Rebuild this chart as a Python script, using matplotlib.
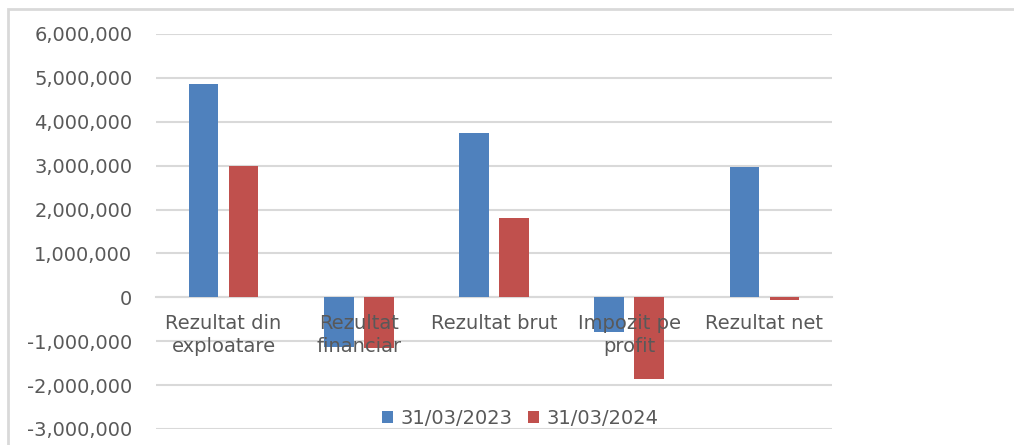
import matplotlib.pyplot as plt
import numpy as np
from matplotlib.ticker import FuncFormatter, MultipleLocator
from matplotlib.patches import Rectangle

categories = ['Rezultat din\nexploatare', 'Rezultat\nfinanciar', 'Rezultat brut',
              'Impozit pe\nprofit', 'Rezultat net']
series_2023 = [4860000, -1140000, 3750000, -800000, 2960000]
series_2024 = [2990000, -1160000, 1800000, -1860000, -70000]
labels = ['31/03/2023', '31/03/2024']

txt = '#595959'
grid = '#d9d9d9'
fs = 14

fig = plt.figure(figsize=(10.14, 4.45), dpi=100)
ax = fig.add_axes([0.1538, 0.036, 0.6667, 0.8876])

x = np.arange(len(categories))
w = 0.22
ax.bar(x - 0.148, series_2023, w, color='#4F81BD', label=labels[0], zorder=3)
ax.bar(x + 0.148, series_2024, w, color='#C0504D', label=labels[1], zorder=3)

ax.set_xlim(-0.5, len(categories) - 0.5)
ax.set_ylim(-3000000, 6000000)
ax.yaxis.set_major_locator(MultipleLocator(1000000))
ax.yaxis.set_major_formatter(FuncFormatter(lambda v, p: f'{v:,.0f}'))
ax.grid(axis='y', color=grid, linewidth=1.5)
ax.yaxis.set_zorder(0.5)
ax.xaxis.set_zorder(4)  # category labels sit on top of the bars

for s in ['top', 'right', 'left']:
    ax.spines[s].set_visible(False)
ax.spines['bottom'].set_position(('data', 0))
ax.spines['bottom'].set_color(grid)
ax.spines['bottom'].set_linewidth(1.5)
ax.spines['bottom'].set_zorder(2)

ax.set_xticks(x)
ax.set_xticklabels(categories, linespacing=1.25)
ax.tick_params(axis='x', length=0, pad=12, labelsize=fs, labelcolor=txt)
ax.tick_params(axis='y', length=0, pad=17, labelsize=fs, labelcolor=txt)

fig.legend(loc='center', bbox_to_anchor=(0.513, 0.06), ncol=2, frameon=False,
           fontsize=fs, labelcolor=txt, handlelength=0.55, handleheight=0.55,
           handletextpad=0.4, columnspacing=0.8)

# light grey chart-area border (only top and left edges visible in the crop)
fig.patches.append(Rectangle((8 / 1014, -0.1), 1.2, 1 - 9 / 445 + 0.1,
                             transform=fig.transFigure, fill=False,
                             edgecolor=grid, linewidth=2))

fig.savefig('out.png', dpi=100)
